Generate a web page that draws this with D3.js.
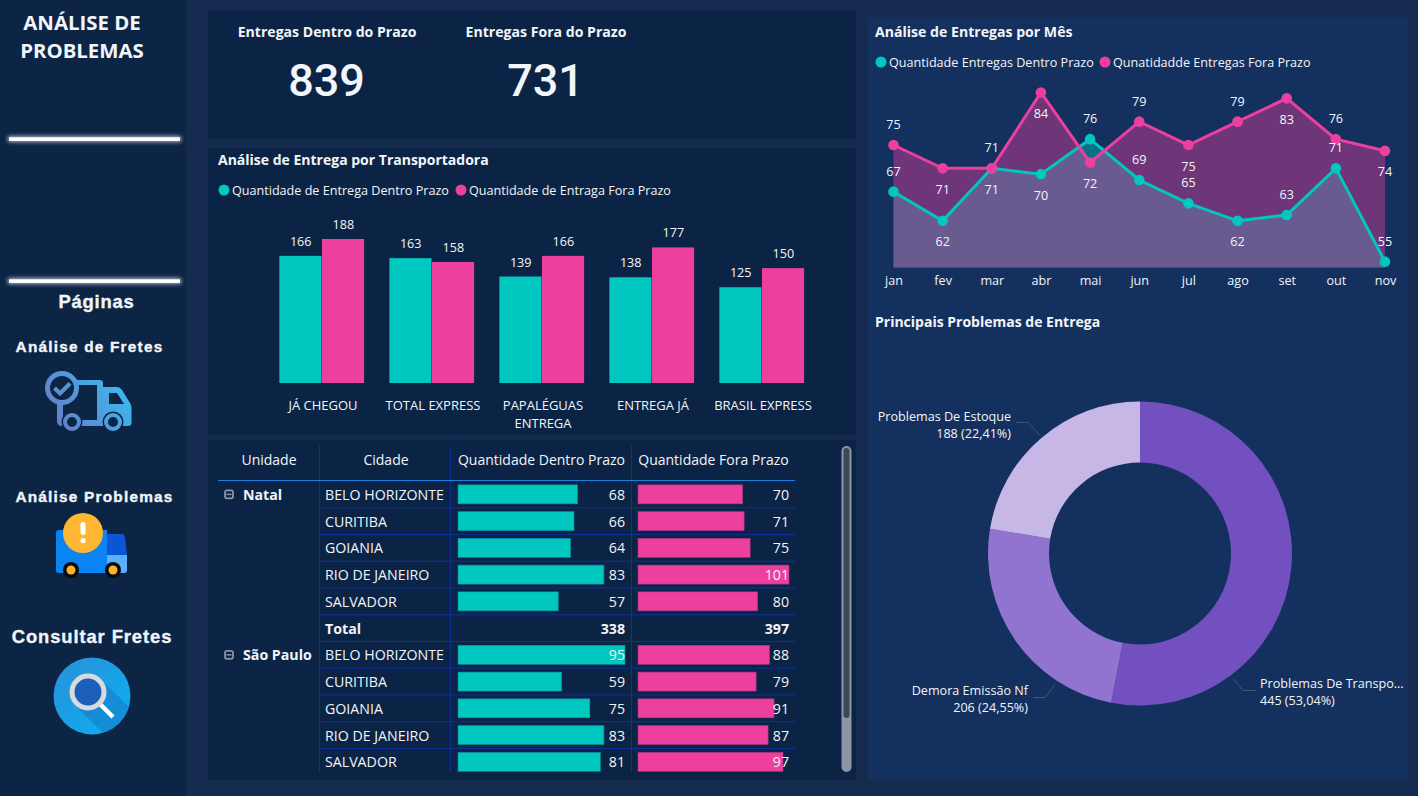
<!DOCTYPE html>
<html lang="pt-BR">
<head>
<meta charset="utf-8">
<title>Análise de Problemas</title>
<script src="https://cdn.jsdelivr.net/npm/d3@7"></script>
<style>
  html, body { margin: 0; padding: 0; background: #142a4f; overflow: hidden; }
  svg { display: block; }
  text { font-family: "Open Sans", "Noto Sans", sans-serif; fill: #fff; }
</style>
</head>
<body>
<script>
const width = 1418;
const height = 796;

const teal = "#00c7bf";
const pink = "#ec3f9e";
const textColor = "#f2f5f9";

// KPIs
const kpiLabels = ["Entregas Dentro do Prazo", "Entregas Fora do Prazo"];
const kpiValues = [839, 731];

// entregas por transportadora
const carriers = ["JÁ CHEGOU", "TOTAL EXPRESS", "PAPALÉGUAS ENTREGA", "ENTREGA JÁ", "BRASIL EXPRESS"];
const carrierDentro = [166, 163, 139, 138, 125];
const carrierFora = [188, 158, 166, 177, 150];

// entregas por mes
const months = ["jan", "fev", "mar", "abr", "mai", "jun", "jul", "ago", "set", "out", "nov"];
const monthDentro = [67, 62, 71, 70, 76, 69, 65, 62, 63, 71, 55];
const monthFora = [75, 71, 71, 84, 72, 79, 75, 79, 83, 76, 74];
// which months carry their data label over the point
const dentroLabelsAbove = new Set(["jan", "mai", "jun", "jul", "set", "out", "nov"]);
const foraLabelsAbove = new Set(["jan", "mar", "jun", "ago", "out"]);

// matriz
const cities = ["BELO HORIZONTE", "CURITIBA", "GOIANIA", "RIO DE JANEIRO", "SALVADOR"];
const natalDentro = [68, 66, 64, 83, 57];
const natalFora = [70, 71, 75, 101, 80];
const natalTotals = [338, 397];
const saoPauloDentro = [95, 59, 75, 83, 81];
const saoPauloFora = [88, 79, 91, 87, 97];

// problemas
const problems = ["Problemas De Transpo...", "Demora Emissão Nf", "Problemas De Estoque"];
const problemValues = [445, 206, 188];
const problemColors = ["#7350c0", "#9174cf", "#c7b7e6"];

const svg = d3.select("body").append("svg")
  .attr("width", width)
  .attr("height", height)
  .attr("viewBox", `0 0 ${width} ${height}`);

const defs = svg.append("defs");

function addText(parent, x, y, str, size, opts = {}) {
  return parent.append("text")
    .attr("x", x)
    .attr("y", y)
    .attr("font-size", size)
    .attr("font-weight", opts.weight || "normal")
    .attr("text-anchor", opts.anchor || "start")
    .attr("letter-spacing", opts.spacing || null)
    .attr("stroke", opts.stroke || null)
    .attr("stroke-width", opts.stroke ? 0.35 : null)
    .style("font-family", opts.family || null)
    .style("fill", opts.fill || textColor)
    .text(str);
}

function addLegend(parent, items, y) {
  items.forEach((d) => {
    parent.append("circle").attr("cx", d.x).attr("cy", y).attr("r", 5.5).attr("fill", d.color);
    addText(parent, d.x + 8, y + 4.5, d.label, 12.6);
  });
}

function renderBackground() {
  const bg = svg.append("g").attr("id", "background");
  const panels = [
    [0, 0, 186, 796, "#0c2545"],
    [208, 10, 648, 129, "#0b2445"],
    [208, 148, 648, 287, "#0b2445"],
    [208, 440, 648, 340, "#0b2445"],
    [868, 17, 540, 763, "#14305f"],
  ];
  bg.append("rect").attr("width", width).attr("height", height).attr("fill", "#142a4f");
  bg.selectAll(".panel")
    .data(panels)
    .enter()
    .append("rect")
    .classed("panel", true)
    .attr("x", (d) => d[0])
    .attr("y", (d) => d[1])
    .attr("width", (d) => d[2])
    .attr("height", (d) => d[3])
    .attr("fill", (d) => d[4]);
}

function renderSidebar() {
  const g = svg.append("g").attr("id", "sidebar");
  addText(g, 82, 30, "ANÁLISE DE", 20.4, { weight: "bold", anchor: "middle" });
  addText(g, 82, 58, "PROBLEMAS", 20.4, { weight: "bold", anchor: "middle" });

  defs.append("filter").attr("id", "glow")
    .attr("x", "-5%").attr("y", "-300%").attr("width", "110%").attr("height", "700%")
    .append("feGaussianBlur").attr("stdDeviation", 2);
  [139, 281].forEach((y) => {
    g.append("rect").attr("x", 8).attr("y", y - 2.5).attr("width", 173).attr("height", 5)
      .attr("fill", "#cfd6e2").attr("filter", "url(#glow)");
    g.append("rect").attr("x", 9).attr("y", y - 1.7).attr("width", 171).attr("height", 3.6)
      .attr("fill", "#fff");
  });

  const arial = "'Liberation Sans', sans-serif";
  const heavy = { weight: "bold", anchor: "middle", family: arial, stroke: "#f2f5f9" };
  addText(g, 96.5, 308, "Páginas", 18.4, { ...heavy, spacing: 0.8 });
  addText(g, 89.5, 352, "Análise de Fretes", 15.4, { ...heavy, spacing: 1.2 });
  addText(g, 94.5, 502, "Análise Problemas", 15.4, { ...heavy, spacing: 1.2 });
  addText(g, 92, 643, "Consultar Fretes", 18.4, { ...heavy, spacing: 0.9 });

  renderTruckCheck(g);
  renderTruckAlert(g);
  renderSearch(g);
}

function renderTruckCheck(g) {
  const grad = defs.append("linearGradient").attr("id", "truckGrad")
    .attr("gradientUnits", "userSpaceOnUse")
    .attr("x1", 50).attr("y1", 432).attr("x2", 130).attr("y2", 375);
  grad.append("stop").attr("offset", 0).attr("stop-color", "#6a77c4");
  grad.append("stop").attr("offset", 1).attr("stop-color", "#37c1f2");

  const icon = g.append("g").attr("id", "icon-truck-check");
  const bg = "#0c2545";
  icon.append("path")
    .attr("d", "M75 380 H100 Q103 380 103 383 V387 H117 Q120 387 122 390 L130 403 Q131.500 405 131.500 408 V423 Q131.500 426 128 426 H62 Q57 426 57 421 V400 H63 V420 H97 V385 H75 Z")
    .attr("fill", "url(#truckGrad)");
  icon.append("path").attr("d", "M109 393 H117 L124 404 H109 Z").attr("fill", bg);
  icon.append("circle").attr("cx", 62).attr("cy", 388).attr("r", 14.5)
    .attr("fill", bg).attr("stroke", "url(#truckGrad)").attr("stroke-width", 5);
  icon.append("path").attr("d", "M54.500 388 L60 393.500 L70 383.500")
    .attr("fill", "none").attr("stroke", "url(#truckGrad)").attr("stroke-width", 4);
  [72, 113].forEach((cx) => {
    icon.append("circle").attr("cx", cx).attr("cy", 422).attr("r", 10.5).attr("fill", bg);
    icon.append("circle").attr("cx", cx).attr("cy", 422).attr("r", 7)
      .attr("fill", bg).attr("stroke", "url(#truckGrad)").attr("stroke-width", 4);
  });
}

function renderTruckAlert(g) {
  const icon = g.append("g").attr("id", "icon-truck-alert");
  icon.append("path").attr("d", "M59 530 H107 V573 H59 Q56 573 56 570 V533 Q56 530 59 530 Z").attr("fill", "#0a84f2");
  icon.append("path").attr("d", "M107 534 H122 Q124 534 125 537 L127 555 H107 Z").attr("fill", "#0a55d8");
  icon.append("path").attr("d", "M107 555 H127 V570 Q127 573 124 573 H107 Z").attr("fill", "#5cb0fb");
  icon.append("circle").attr("cx", 83).attr("cy", 533).attr("r", 20).attr("fill", "#ffb733");
  icon.append("rect").attr("x", 80.5).attr("y", 522).attr("width", 5).attr("height", 13).attr("rx", 2.5).attr("fill", "#fff");
  icon.append("circle").attr("cx", 83).attr("cy", 540.5).attr("r", 2.6).attr("fill", "#fff");
  [71, 113].forEach((cx) => {
    icon.append("circle").attr("cx", cx).attr("cy", 570).attr("r", 8).attr("fill", "#0b0b0d");
    icon.append("circle").attr("cx", cx).attr("cy", 570).attr("r", 4.5).attr("fill", "#f9b12e");
  });
}

function renderSearch(g) {
  const grad = defs.append("linearGradient").attr("id", "searchGrad")
    .attr("x1", 0).attr("y1", 0).attr("x2", 1).attr("y2", 1);
  grad.append("stop").attr("offset", 0).attr("stop-color", "#2a90d8");
  grad.append("stop").attr("offset", 1).attr("stop-color", "#0bb0f2");
  defs.append("clipPath").attr("id", "searchClip")
    .append("circle").attr("cx", 92).attr("cy", 696).attr("r", 38.5);

  const icon = g.append("g").attr("id", "icon-search");
  icon.append("circle").attr("cx", 92).attr("cy", 696).attr("r", 38.5).attr("fill", "url(#searchGrad)");
  icon.append("path").attr("d", "M100 678 L135 713 L110 740 L76 706 Z")
    .attr("fill", "#1578c4").attr("opacity", 0.55).attr("clip-path", "url(#searchClip)");
  icon.append("line").attr("x1", 100).attr("y1", 704).attr("x2", 113).attr("y2", 717)
    .attr("stroke", "#fff").attr("stroke-width", 4.5);
  icon.append("circle").attr("cx", 88).attr("cy", 692).attr("r", 16)
    .attr("fill", "#1b5fba").attr("stroke", "#d8dadc").attr("stroke-width", 5);
}

function renderKpis() {
  const g = svg.append("g").attr("id", "kpis");
  const x = d3.scaleOrdinal().domain(kpiLabels).range([327, 546]);
  kpiLabels.forEach((label, i) => {
    addText(g, x(label), 37, label, 14.1, { weight: "bold", anchor: "middle" });
    addText(g, x(label) - 0.5, 96, kpiValues[i], 45, { weight: 500, anchor: "middle", family: "Roboto, sans-serif" });
  });
}

function renderCarrierChart() {
  const g = svg.append("g").attr("id", "carriers");
  addText(g, 218, 165, "Análise de Entrega por Transportadora", 14, { weight: "bold" });
  addLegend(g, [
    { x: 224, color: teal, label: "Quantidade de Entrega Dentro Prazo" },
    { x: 461, color: pink, label: "Quantidade de Entraga Fora Prazo" },
  ], 190);

  const x = d3.scaleBand().domain(carriers).range([267, 817]).paddingInner(0.225).paddingOuter(0.1125);
  const xSeries = d3.scaleBand().domain(["dentro", "fora"]).range([0, x.bandwidth()]);
  const y = d3.scaleLinear().domain([0, 188]).range([383, 239]);

  const series = [
    { key: "dentro", values: carrierDentro, color: teal },
    { key: "fora", values: carrierFora, color: pink },
  ];

  series.forEach((s) => {
    const bars = g.append("g").attr("class", `bars-${s.key}`);
    bars.selectAll("rect")
      .data(s.values)
      .enter()
      .append("rect")
      .attr("x", (d, i) => x(carriers[i]) + xSeries(s.key))
      .attr("y", (d) => y(d))
      .attr("width", xSeries.bandwidth() - 0.5)
      .attr("height", (d) => y(0) - y(d))
      .attr("fill", s.color);
    bars.selectAll("text")
      .data(s.values)
      .enter()
      .append("text")
      .attr("x", (d, i) => x(carriers[i]) + xSeries(s.key) + xSeries.bandwidth() / 2)
      .attr("y", (d) => y(d) - 10)
      .attr("text-anchor", "middle")
      .attr("font-size", 12.6)
      .style("fill", textColor)
      .text((d) => d);
  });

  const axis = g.append("g")
    .attr("transform", `translate(1, ${y(0)})`)
    .call(d3.axisBottom(x).tickSize(0).tickPadding(0));
  axis.select(".domain").remove();
  axis.selectAll("text")
    .attr("font-size", 13)
    .style("font-family", null)
    .style("fill", textColor)
    .each(wrapCarrierLabel);
}

function wrapCarrierLabel(d) {
  // only the long name breaks, same as the original axis
  const lines = d.length > 15 ? d.split(" ") : [d];
  const label = d3.select(this).text(null).attr("y", 0).attr("dy", null);
  lines.forEach((line, i) => {
    label.append("tspan").attr("x", 0).attr("y", 27 + i * 18).text(line);
  });
}

function renderMonthChart() {
  const g = svg.append("g").attr("id", "months");
  addText(g, 875, 37, "Análise de Entregas por Mês", 14.1, { weight: "bold" });
  addLegend(g, [
    { x: 881, color: teal, label: "Quantidade Entregas Dentro Prazo" },
    { x: 1105, color: pink, label: "Qunatidadde Entregas Fora Prazo" },
  ], 62);

  const x = d3.scalePoint().domain(months).range([893.5, 1385]);
  const y = d3.scaleLinear().domain([54, 84]).range([267.5, 92.5]);

  const series = [
    { key: "dentro", values: monthDentro, color: teal, above: dentroLabelsAbove },
    { key: "fora", values: monthFora, color: pink, above: foraLabelsAbove },
  ];
  const area = d3.area().x((d, i) => x(months[i])).y0(y(54)).y1((d) => y(d));
  const line = d3.line().x((d, i) => x(months[i])).y((d) => y(d));

  series.forEach((s) => {
    g.append("path").attr("d", area(s.values)).attr("fill", s.color).attr("fill-opacity", 0.42);
  });
  series.forEach((s) => {
    g.append("path").attr("d", line(s.values))
      .attr("fill", "none")
      .attr("stroke", s.color)
      .attr("stroke-width", 3);
    g.selectAll(`.pt-${s.key}`)
      .data(s.values)
      .enter()
      .append("circle")
      .attr("class", `pt-${s.key}`)
      .attr("cx", (d, i) => x(months[i]))
      .attr("cy", (d) => y(d))
      .attr("r", 5.3)
      .attr("fill", s.color);
  });
  series.forEach((s) => {
    g.selectAll(`.lb-${s.key}`)
      .data(s.values)
      .enter()
      .append("text")
      .attr("class", `lb-${s.key}`)
      .attr("x", (d, i) => x(months[i]))
      .attr("y", (d, i) => y(d) + (s.above.has(months[i]) ? -16 : 25.5))
      .attr("text-anchor", "middle")
      .attr("font-size", 12.6)
      .style("fill", textColor)
      .text((d) => d);
  });

  const axis = g.append("g")
    .attr("transform", `translate(0, ${y(54)})`)
    .call(d3.axisBottom(x).tickSize(0).tickPadding(0));
  axis.select(".domain").remove();
  axis.selectAll("text")
    .attr("y", 17)
    .attr("dy", null)
    .attr("font-size", 12.6)
    .style("font-family", null)
    .style("fill", textColor);
}

function renderTable() {
  const g = svg.append("g").attr("id", "table");
  const rows = [
    ...cities.map((c, i) => ({ city: c, dentro: natalDentro[i], fora: natalFora[i] })),
    { city: "Total", totals: natalTotals },
    ...cities.map((c, i) => ({ city: c, dentro: saoPauloDentro[i], fora: saoPauloFora[i] })),
  ];
  const rowY = d3.scaleBand().domain(d3.range(rows.length)).range([481, 775.2]);
  const dentroX = d3.scaleLinear().domain([0, 95]).range([458, 625]);
  const foraX = d3.scaleLinear().domain([0, 101]).range([638, 789]);
  const lineBlue = "#0f2f9c";
  const bodySize = 14.2;

  // grid
  rows.forEach((d, i) => {
    if (i === rows.length - 1) return;
    g.append("line")
      .attr("x1", 319).attr("x2", 795)
      .attr("y1", rowY(i) + rowY.bandwidth()).attr("y2", rowY(i) + rowY.bandwidth())
      .attr("stroke", lineBlue);
  });
  [319.5, 450.5, 631.5].forEach((xPos) => {
    g.append("line").attr("x1", xPos).attr("x2", xPos).attr("y1", 446).attr("y2", 772)
      .attr("stroke", lineBlue);
  });
  g.append("line").attr("x1", 218).attr("x2", 795).attr("y1", 480.5).attr("y2", 480.5)
    .attr("stroke", "#1d7fe0");

  // header
  [["Unidade", 269], ["Cidade", 386], ["Quantidade Dentro Prazo", 541.5], ["Quantidade Fora Prazo", 713.5]]
    .forEach(([label, xPos]) => addText(g, xPos, 465, label, 14, { anchor: "middle" }));

  // group column
  [["Natal", 0], ["São Paulo", 6]].forEach(([label, i]) => {
    const cy = rowY(i) + rowY.bandwidth() / 2;
    g.append("rect").attr("x", 225).attr("y", cy - 4).attr("width", 8).attr("height", 8).attr("rx", 2)
      .attr("fill", "none").attr("stroke", "#8a93a3").attr("stroke-width", 1.8);
    g.append("line").attr("x1", 226.5).attr("x2", 231.5).attr("y1", cy).attr("y2", cy)
      .attr("stroke", "#8a93a3").attr("stroke-width", 1.5);
    addText(g, 243, cy + 5.5, label, bodySize, { weight: "bold" });
  });

  const rowsG = g.selectAll(".row")
    .data(rows)
    .enter()
    .append("g")
    .classed("row", true)
    .attr("transform", (d, i) => `translate(0, ${rowY(i) + rowY.bandwidth() / 2})`);

  rowsG.each(function (d) {
    const row = d3.select(this);
    if (d.totals) {
      addText(row, 325, 5.5, d.city, bodySize, { weight: "bold" });
      addText(row, 625, 5.5, d.totals[0], bodySize, { weight: "bold", anchor: "end" });
      addText(row, 789, 5.5, d.totals[1], bodySize, { weight: "bold", anchor: "end" });
      return;
    }
    addText(row, 325, 5.5, d.city, bodySize);
    row.append("rect").attr("x", dentroX(0)).attr("y", -9.5).attr("height", 19)
      .attr("width", dentroX(d.dentro) - dentroX(0))
      .attr("fill", teal).attr("stroke", "#078f93").attr("stroke-width", 0.6);
    row.append("rect").attr("x", foraX(0)).attr("y", -9.5).attr("height", 19)
      .attr("width", foraX(d.fora) - foraX(0))
      .attr("fill", pink).attr("stroke", "#a8357f").attr("stroke-width", 0.6);
    addText(row, 625, 5.5, d.dentro, bodySize, { anchor: "end" });
    addText(row, 789, 5.5, d.fora, bodySize, { anchor: "end" });
  });

  // scrollbar
  g.append("rect").attr("x", 841.5).attr("y", 446).attr("width", 10).attr("height", 326).attr("rx", 5)
    .attr("fill", "#8c95a7");
  g.append("rect").attr("x", 843.5).attr("y", 448).attr("width", 6).attr("height", 270).attr("rx", 3)
    .attr("fill", "#3c4859");
}

function renderDonut() {
  const g = svg.append("g").attr("id", "problems");
  addText(g, 875, 327, "Principais Problemas de Entrega", 14, { weight: "bold" });

  const total = d3.sum(problemValues);
  const pie = d3.pie().sort(null)(problemValues);
  const arc = d3.arc().innerRadius(91).outerRadius(152);
  const center = g.append("g").attr("transform", "translate(1140, 553.5)");

  center.selectAll("path")
    .data(pie)
    .enter()
    .append("path")
    .attr("d", arc)
    .attr("fill", (d, i) => problemColors[i]);

  // leader lines don't sit on the slice centre in the original, so placed by hand
  const leaders = [
    { from: [93, 125], knee: [103, 137], to: [116, 137], textX: 120, anchor: "start", textY: 134 },
    { from: [-85, 131], knee: [-95, 144], to: [-107, 144], textX: -112, anchor: "end", textY: 141 },
    { from: [-100, -118], knee: [-112, -131], to: [-124, -131], textX: -129, anchor: "end", textY: -133 },
  ];
  leaders.forEach((l, i) => {
    center.append("path")
      .attr("d", d3.line()([l.from, l.knee, l.to]))
      .attr("fill", "none")
      .attr("stroke", "#3f5a78")
      .attr("stroke-width", 1);
    addText(center, l.textX, l.textY, problems[i], 12.6, { anchor: l.anchor });
    const pct = ((problemValues[i] / total) * 100).toFixed(2).replace(".", ",");
    addText(center, l.textX, l.textY + 17.5, `${problemValues[i]} (${pct}%)`, 12.6, { anchor: l.anchor });
  });
}

renderBackground();
renderSidebar();
renderKpis();
renderCarrierChart();
renderMonthChart();
renderTable();
renderDonut();
</script>
</body>
</html>
